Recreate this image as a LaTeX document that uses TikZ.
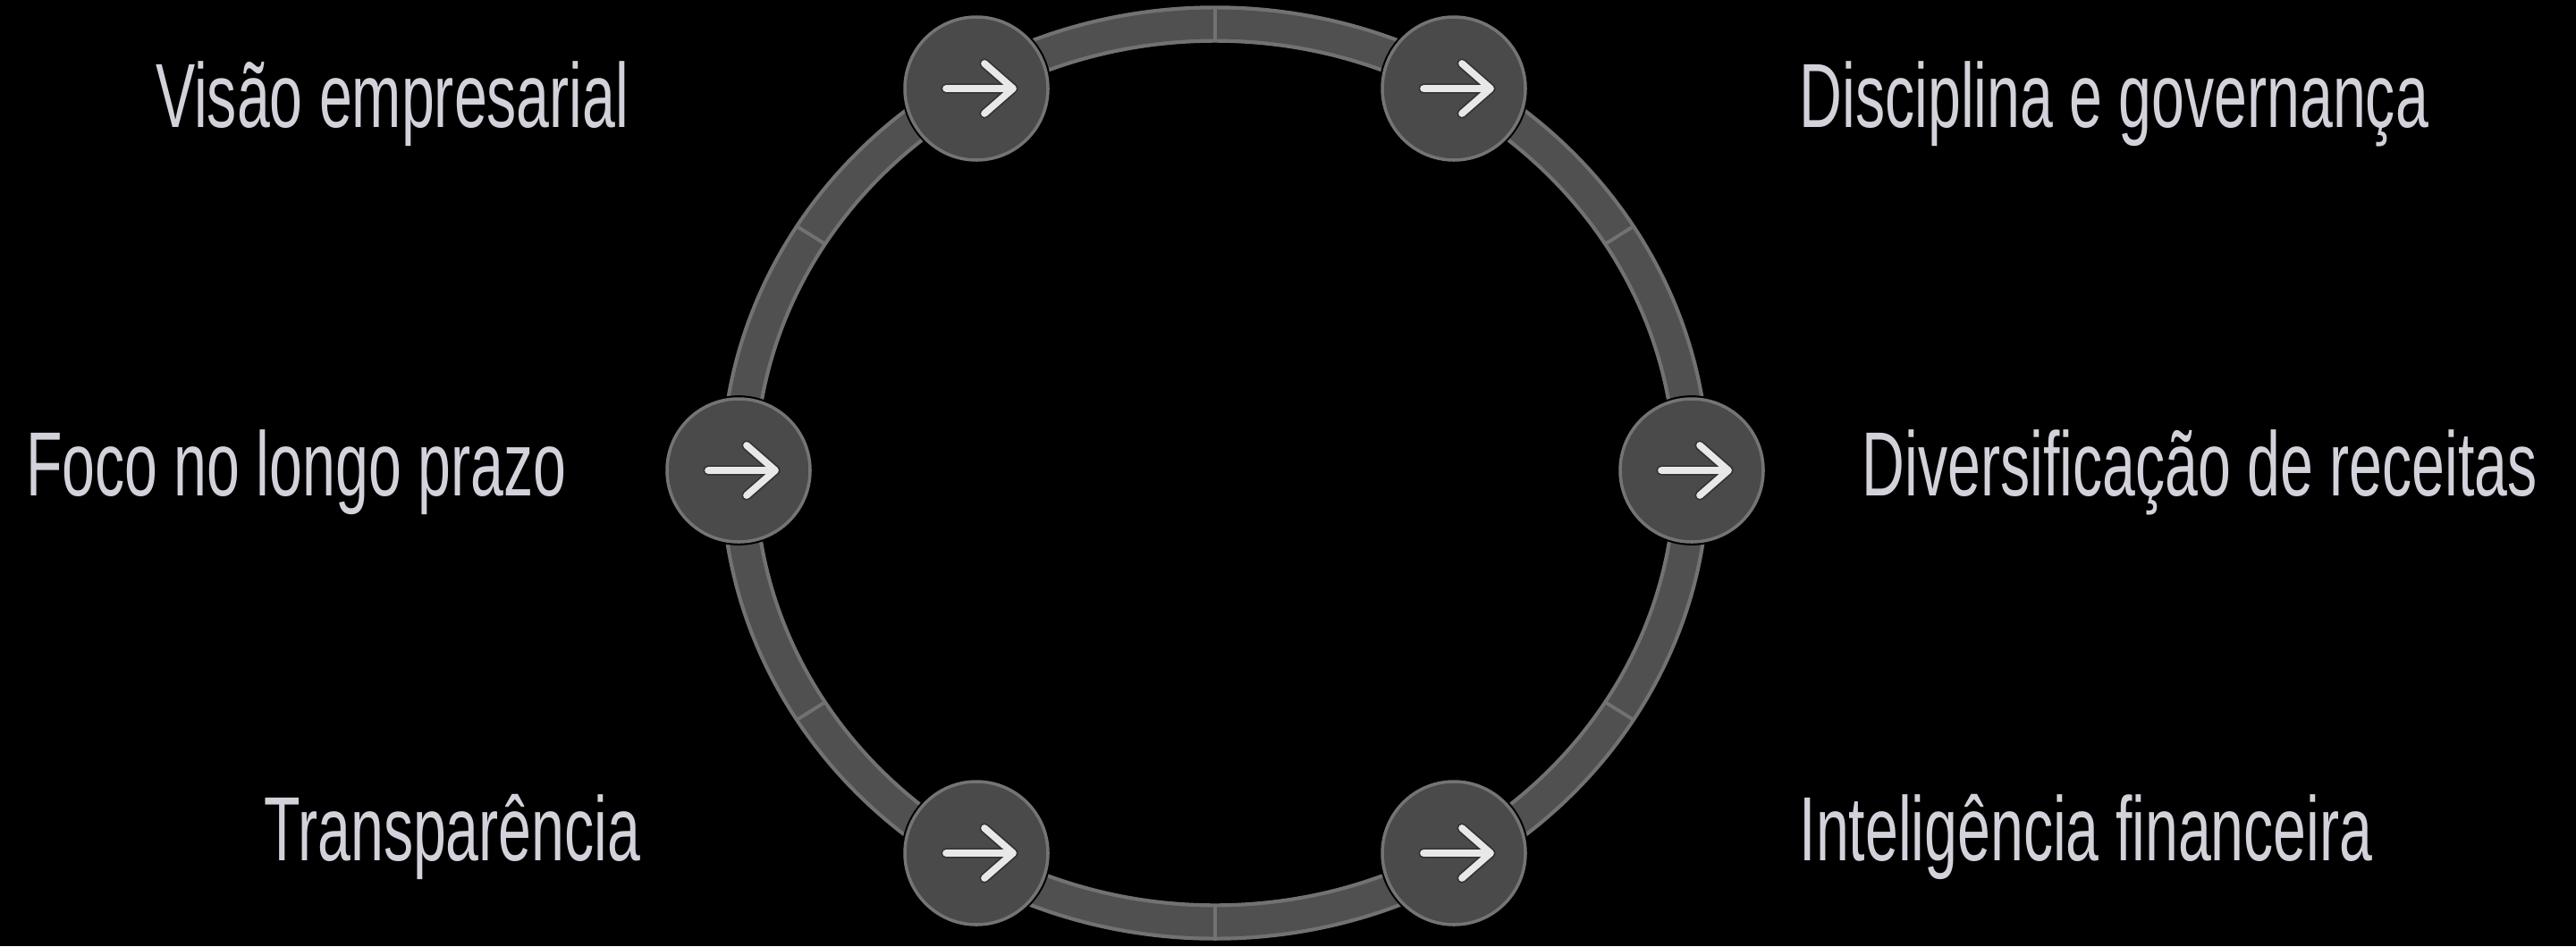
\documentclass[tikz,border=0pt]{standalone}
\usepackage{fontspec}
\setmainfont{Liberation Sans}[FakeStretch=0.65]
\usepackage{xcolor}
\usepackage{tikz}
\usetikzlibrary{
    positioning,
    calc,
}
\definecolor{ringfill}{HTML}{505050}
\definecolor{ringedge}{HTML}{727272}
\definecolor{hubfill}{HTML}{4A4A4A}
\definecolor{hubedge}{HTML}{747474}
\definecolor{glyph}{HTML}{E8E8E8}
\definecolor{labeltext}{HTML}{D2D2DA}
\tikzset{
    % Ring styles
    ring outer/.style={draw=ringedge, line width=11.8pt},
    ring inner/.style={draw=ringfill, line width=9.4pt},
    ring tick/.style={draw=ringedge, line width=1.1pt},
    % Hub styles
    glyph shadow/.style={draw=black!80, line width=3.2pt, line cap=round, line join=round},
    glyph line/.style={draw=glyph, line width=2.2pt, line cap=round, line join=round},
    hub/.style={circle, fill=hubfill, draw=hubedge, line width=1pt,
                minimum size=16mm, inner sep=0pt,
                preaction={draw=black, line width=2.2pt},
                path picture={
                    \begin{scope}[shift={(path picture bounding box.center)}]
                        \draw[glyph shadow] (-0.34,0) -- (0.41,0) (0.09,0.28) -- (0.41,0) -- (0.09,-0.28);
                        \draw[glyph line] (-0.34,0) -- (0.41,0) (0.09,0.28) -- (0.41,0) -- (0.09,-0.28);
                    \end{scope}
                }},
    % Text styles
    point text/.style={font=\fontsize{29pt}{32pt}\selectfont, text=labeltext, inner sep=0pt},
}

\begin{document}
\begin{tikzpicture}
    % Background
    \fill[black] (0,0) rectangle (28.81,10.58);
    \useasboundingbox (0,0) rectangle (28.81,10.58);

    % Ring
    \coordinate (c) at (13.59,5.29);
    \draw[ring outer] (c) ellipse [x radius=5.33, y radius=5.02];
    \draw[ring inner] (c) ellipse [x radius=5.33, y radius=5.02];
    \foreach \t in {32,90,148,212,270,328} {
        \draw[ring tick] ($(c)+({5.16*cos(\t)},{4.85*sin(\t)})$) -- ($(c)+({5.50*cos(\t)},{5.19*sin(\t)})$);
    }

    % Hubs
    \node[hub] (vision) at (10.92,9.59) {};
    \node[hub] (discipline) at (16.26,9.59) {};
    \node[hub] (focus) at (8.26,5.32) {};
    \node[hub] (diversity) at (18.92,5.32) {};
    \node[hub] (transparency) at (10.92,1.04) {};
    \node[hub] (intelligence) at (16.26,1.04) {};

    % Labels
    \node[point text, anchor=base east] (vision text) at (7.04,9.16) {Visão empresarial};
    \node[point text, anchor=base west] (discipline text) at (20.12,9.16) {Disciplina e governança};
    \node[point text, anchor=base east] (focus text) at (6.34,5.04) {Foco no longo prazo};
    \node[point text, anchor=base west] (diversity text) at (20.82,5.04) {Diversificação de receitas};
    \node[point text, anchor=base east] (transparency text) at (7.17,0.96) {Transparência};
    \node[point text, anchor=base west] (intelligence text) at (20.12,0.96) {Inteligência financeira};
\end{tikzpicture}
\end{document}
